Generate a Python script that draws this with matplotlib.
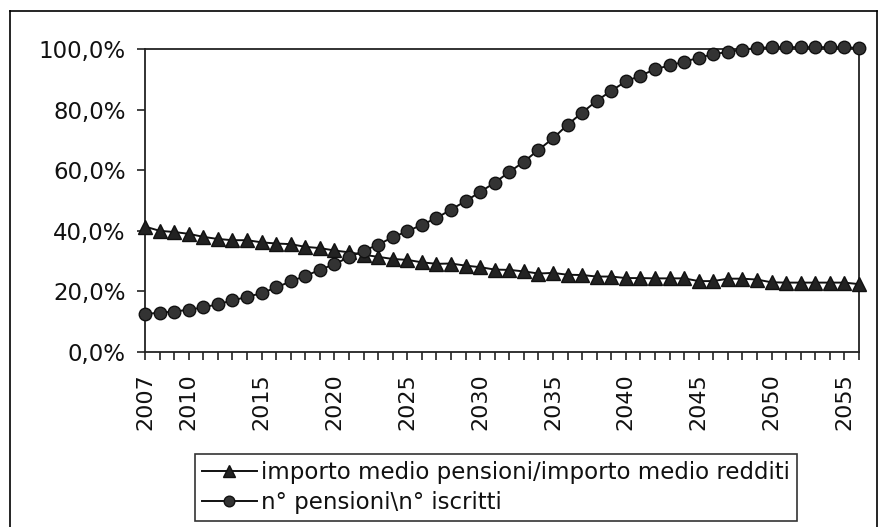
import matplotlib
matplotlib.use("Agg")
import matplotlib.pyplot as plt
from matplotlib.lines import Line2D
from matplotlib.ticker import FuncFormatter, FixedLocator

years = list(range(2007, 2057))
tick_labels = [2007, 2010, 2015, 2020, 2025, 2030, 2035, 2040, 2045, 2050, 2055]

ratio_importo = [41.4, 40.0, 39.6, 39.0, 38.0, 37.3, 36.9, 36.9, 36.2, 35.8,
                 35.6, 34.7, 34.3, 33.5, 32.9, 32.1, 31.4, 30.7, 30.4, 29.6,
                 29.1, 29.2, 28.5, 28.0, 27.2, 27.1, 26.6, 25.9, 26.1, 25.5,
                 25.4, 24.9, 24.9, 24.4, 24.4, 24.3, 24.3, 24.3, 23.4, 23.4,
                 24.2, 24.2, 23.9, 23.0, 22.9, 22.9, 22.9, 22.9, 22.9, 22.4]

ratio_pensioni = [12.5, 13.0, 13.3, 14.0, 14.7, 15.8, 17.0, 18.2, 19.4, 21.3,
                  23.3, 25.1, 27.1, 29.0, 31.3, 33.4, 35.4, 37.9, 39.8, 42.0,
                  44.2, 47.0, 49.8, 52.8, 55.9, 59.4, 62.8, 66.7, 70.5, 75.0,
                  79.0, 82.9, 86.2, 89.3, 91.2, 93.3, 94.6, 95.8, 97.1, 98.3,
                  99.0, 99.8, 100.3, 100.6, 100.6, 100.6, 100.6, 100.6, 100.6, 100.3]

label_importo = "importo medio pensioni/importo medio redditi"
label_pensioni = "n° pensioni\\n° iscritti"

W, H = 880, 527
fig = plt.figure(figsize=(W / 100, H / 100), dpi=100)
fig.patch.set_facecolor("white")

# outer chart-area border
for (x0, y0, x1, y1) in [(10, 11, 877, 11), (10, 11, 10, 540), (877, 11, 877, 540)]:
    fig.add_artist(Line2D([x0 / W, x1 / W], [1 - y0 / H, 1 - y1 / H],
                          color="black", lw=1.2, transform=fig.transFigure))

left, right, top, bottom = 145, 859, 49, 352
ax = fig.add_axes([left / W, 1 - bottom / H, (right - left) / W, (bottom - top) / H])

ax.plot(years, ratio_importo, color="#111111", lw=1.4, marker="^", ms=9.5,
        mfc="#222222", mec="#111111", clip_on=False, label=label_importo, zorder=3)
ax.plot(years, ratio_pensioni, color="#111111", lw=1.4, marker="o", ms=9,
        mfc="#333333", mec="#111111", clip_on=False, label=label_pensioni, zorder=3)

ax.set_xlim(2007, 2056)
ax.set_ylim(0, 100)
ax.set_yticks([0, 20, 40, 60, 80, 100])
ax.yaxis.set_major_formatter(FuncFormatter(lambda v, p: f"{v:.1f}%".replace(".", ",")))
ax.xaxis.set_major_locator(FixedLocator(tick_labels))
ax.xaxis.set_minor_locator(FixedLocator(years))
ax.set_xticklabels([str(t) for t in tick_labels], rotation=90)

for s in ax.spines.values():
    s.set_color("#222222")
    s.set_linewidth(1.3)

ax.tick_params(axis="y", direction="out", length=6, width=1.2, pad=8, labelsize=16.5,
               colors="#222222", labelcolor="#111111")
ax.tick_params(axis="x", which="major", direction="out", length=6, width=1.2, pad=9,
               labelsize=16, colors="#222222", labelcolor="#111111")
ax.tick_params(axis="x", which="minor", direction="out", length=6, width=1.2,
               colors="#222222")

leg = fig.legend(loc="upper left", bbox_to_anchor=(195 / W, 1 - 454 / H),
                 bbox_transform=fig.transFigure, frameon=True, fancybox=False,
                 edgecolor="black", fontsize=16.5, handlelength=2.4,
                 handletextpad=0.2, labelspacing=0.32, borderpad=0.3,
                 borderaxespad=0, markerscale=0.85)
leg.get_frame().set_linewidth(1.2)
for t in leg.get_texts():
    t.set_color("#111111")

fig.savefig("out.png", dpi=100, facecolor="white")
